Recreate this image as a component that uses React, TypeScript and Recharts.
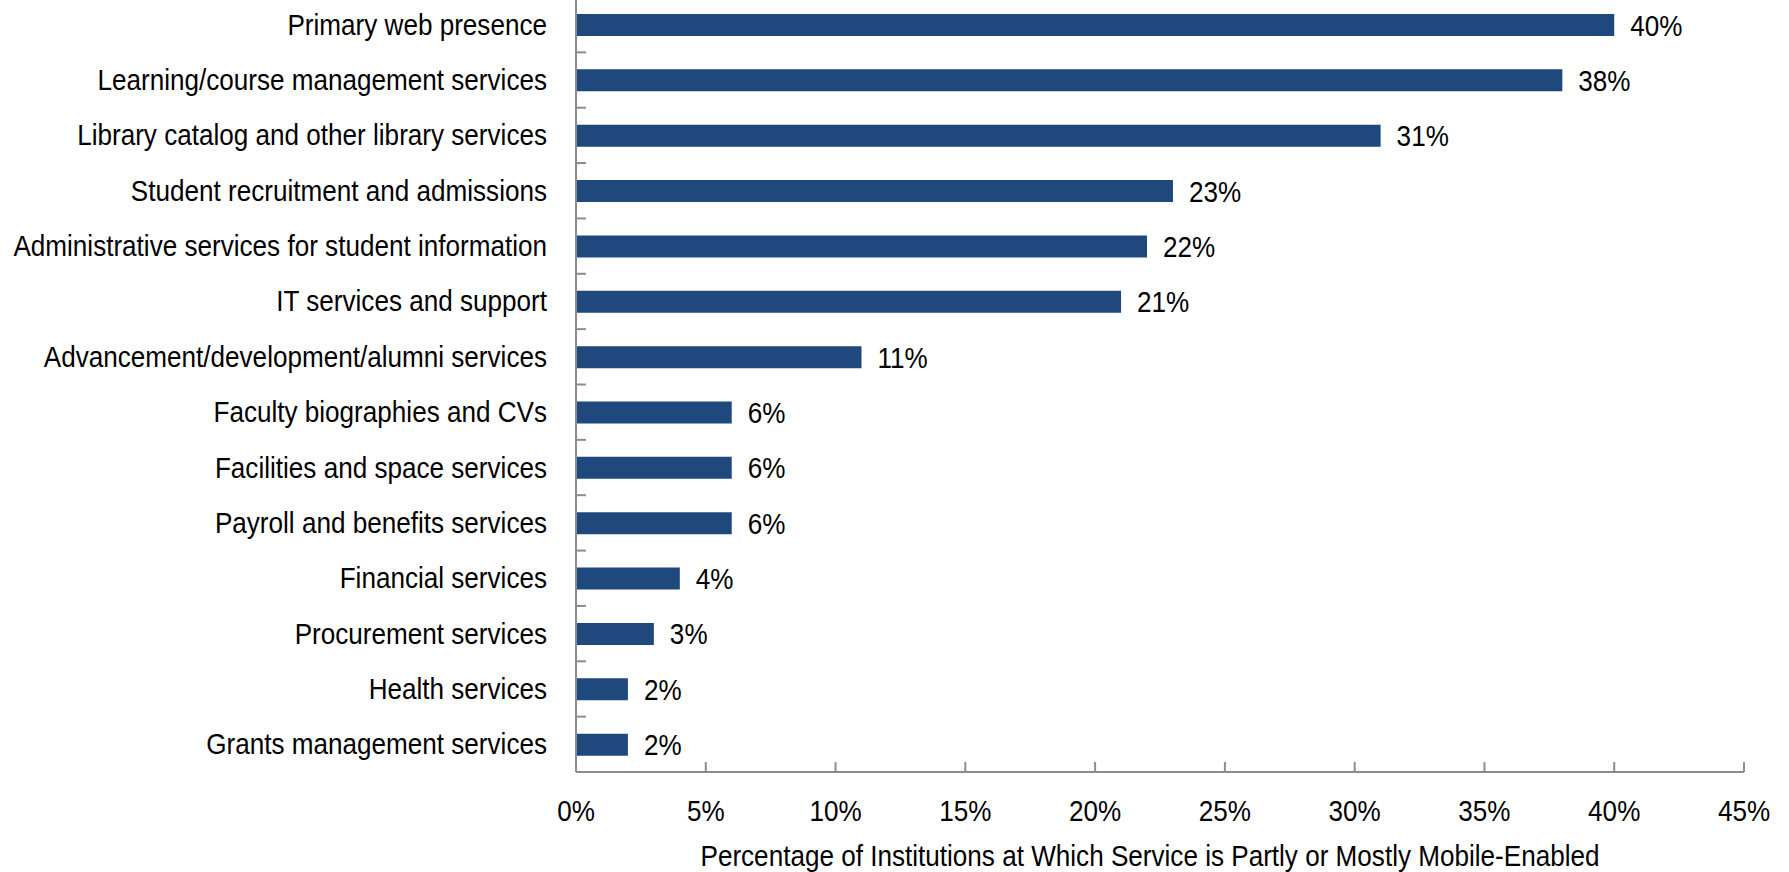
import { BarChart, Bar, XAxis, YAxis, LabelList } from 'recharts'

const services = [
  'Primary web presence',
  'Learning/course management services',
  'Library catalog and other library services',
  'Student recruitment and admissions',
  'Administrative services for student information',
  'IT services and support',
  'Advancement/development/alumni services',
  'Faculty biographies and CVs',
  'Facilities and space services',
  'Payroll and benefits services',
  'Financial services',
  'Procurement services',
  'Health services',
  'Grants management services',
]

const percents = [40, 38, 31, 23, 22, 21, 11, 6, 6, 6, 4, 3, 2, 2]

const xTicks = [0, 5, 10, 15, 20, 25, 30, 35, 40, 45]

const axisTitle = 'Percentage of Institutions at Which Service is Partly or Mostly Mobile-Enabled'

const data = services.map((name, i) => ({ name, value: percents[i] }))

const W = 1789
const H = 872
const margin = { top: -3, right: 45, bottom: 0, left: 0 }
const yAxisWidth = 576
const xAxisHeight = 100
const band = (H - margin.top - margin.bottom - xAxisHeight) / services.length

// the original uses a narrow face; squeeze Liberation Sans to get close
const font = "'Liberation Sans', Arial, sans-serif"
const fontSize = 29
const squeeze = 0.9
const axisColor = '#8c8c8c'
const barColor = '#1f497d'

function NarrowText({ x, y, anchor, dy, children }: any) {
  return (
    <text
      transform={`translate(${x}, ${y}) scale(${squeeze}, 1)`}
      x={0}
      y={0}
      dy={dy}
      textAnchor={anchor}
      fontFamily={font}
      fontSize={fontSize}
      fill="#000"
    >
      {children}
    </text>
  )
}

function YTick(props: any) {
  const { x, y, payload } = props
  return (
    <g>
      <line x1={x} x2={x + 10} y1={y + band / 2} y2={y + band / 2} stroke={axisColor} strokeWidth={2} />
      <NarrowText x={x - 29} y={y} dy={10} anchor="end">
        {payload.value}
      </NarrowText>
    </g>
  )
}

function XTick(props: any) {
  const { x, y, payload } = props
  return (
    <g>
      <line x1={x} x2={x} y1={y} y2={y - 10} stroke={axisColor} strokeWidth={2} />
      <NarrowText x={x} y={y + 49} anchor="middle">
        {payload.value}%
      </NarrowText>
    </g>
  )
}

function ValueLabel(props: any) {
  const { x, y, width, height, value } = props
  return (
    <NarrowText x={x + width + 16} y={y + height / 2} dy={10.5} anchor="start">
      {value}%
    </NarrowText>
  )
}

function AxisTitle(props: any) {
  const { viewBox } = props
  return (
    <NarrowText x={viewBox.x + viewBox.width / 2 - 10} y={viewBox.y + viewBox.height - 6} anchor="middle">
      {axisTitle}
    </NarrowText>
  )
}

export default function App() {
  return (
    <div style={{ position: 'absolute', left: 0, top: 0, background: '#fff' }}>
      <BarChart width={W} height={H} data={data} layout="vertical" margin={margin}>
        <XAxis
          type="number"
          domain={[0, 45]}
          ticks={xTicks}
          interval={0}
          height={xAxisHeight}
          tickSize={0}
          tickMargin={0}
          tickLine={false}
          axisLine={{ stroke: axisColor, strokeWidth: 2 }}
          tick={<XTick />}
          label={<AxisTitle />}
        />
        <YAxis
          type="category"
          dataKey="name"
          width={yAxisWidth}
          interval={0}
          tickSize={0}
          tickMargin={0}
          tickLine={false}
          axisLine={{ stroke: axisColor, strokeWidth: 2 }}
          tick={<YTick />}
        />
        <Bar dataKey="value" fill={barColor} barSize={22} isAnimationActive={false}>
          <LabelList dataKey="value" content={<ValueLabel />} />
        </Bar>
      </BarChart>
    </div>
  )
}
